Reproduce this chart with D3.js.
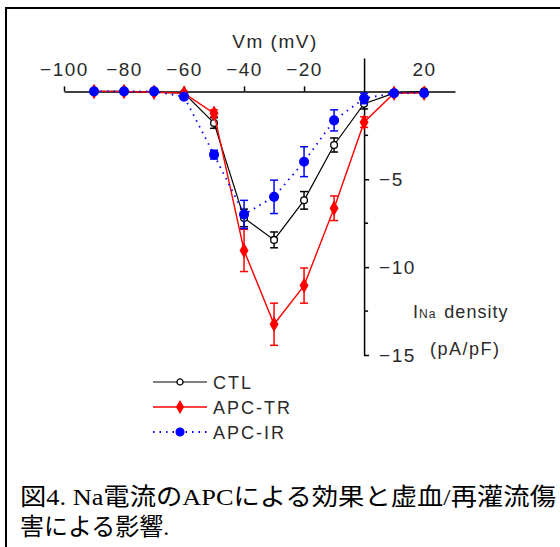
<!DOCTYPE html>
<html>
<head>
<meta charset="utf-8">
<script src="https://cdn.jsdelivr.net/npm/d3@7"></script>
<style>
  body { margin: 0; background: #fff; }
  svg { display: block; }
  .lbl { font-family: "Liberation Sans", Arial, sans-serif; fill: #2a2a2a; }
</style>
</head>
<body>
<div id="chart"></div>
<script>
// membrane potential steps (mV)
const voltages = [-90, -80, -70, -60, -50, -40, -30, -20, -10, 0, 10, 20];
// INa density (pA/pF), mean and SEM
const ctlMean = [0, 0, -0.05, -0.1, -1.8, -7.2, -8.45, -6.2, -3.05, -0.7, -0.1, 0];
const ctlErr  = [0, 0, 0, 0.1, 0.3, 0.5, 0.45, 0.5, 0.4, 0.3, 0.1, 0];
const trMean  = [0, 0, -0.05, -0.1, -1.25, -9.05, -13.25, -11.05, -6.65, -1.75, -0.1, -0.1];
const trErr   = [0, 0, 0, 0.1, 0.2, 1.2, 1.2, 1.0, 0.7, 0.3, 0.1, 0];
const irMean  = [0, 0, 0, -0.3, -3.6, -7.0, -6.0, -4.0, -1.65, -0.4, -0.1, -0.1];
const irErr   = [0, 0, 0, 0.15, 0.25, 0.8, 0.95, 0.85, 0.6, 0.3, 0.1, 0];
const xTicks = [-100, -80, -60, -40, -20, 20];
const yTicks = [-5, -10, -15];
const yMinor = [-2.5, -7.5, -12.5];

const W = 560, H = 547;
const svg = d3.select('#chart').append('svg').attr('width', W).attr('height', H);

// outer frame (cropped at right/bottom)
svg.append('rect').attr('x', 6).attr('y', 8).attr('width', 700).attr('height', 700)
  .attr('fill', 'none').attr('stroke', '#000').attr('stroke-width', 2);

const x = d3.scaleLinear().domain([-100, 30.3]).range([64, 455]);
const y = d3.scaleLinear().domain([1.9, -15]).range([58, 355]);

// x axis (ticks up, labels above)
const xAxis = svg.append('g').attr('transform', `translate(0,${y(0)})`)
  .call(d3.axisTop(x).tickValues(xTicks).tickSizeInner(5).tickSizeOuter(0).tickPadding(10));
xAxis.select('.domain').attr('stroke', '#000').attr('stroke-width', 1.5);
xAxis.selectAll('.tick line').attr('stroke', '#000').attr('stroke-width', 1.5);
xAxis.selectAll('.tick text').attr('class', 'lbl').attr('font-size', 19)
  .attr('letter-spacing', 1.5).attr('fill', '#2a2a2a');

// y axis at x=0
const yAxis = svg.append('g').attr('transform', `translate(${x(0)},0)`)
  .call(d3.axisRight(y).tickValues(yTicks).tickSizeInner(5).tickSizeOuter(0).tickPadding(10));
yAxis.select('.domain').attr('stroke', '#000').attr('stroke-width', 1.5);
yAxis.selectAll('.tick line').attr('stroke', '#000').attr('stroke-width', 1.5);
yAxis.selectAll('.tick text').attr('class', 'lbl').attr('font-size', 19)
  .attr('letter-spacing', 1.5).attr('fill', '#2a2a2a');
yAxis.selectAll('.minor').data(yMinor).enter().append('line')
  .attr('x1', 0).attr('x2', 4).attr('y1', d => y(d)).attr('y2', d => y(d))
  .attr('stroke', '#000').attr('stroke-width', 1.5);

// axis titles
svg.append('text').attr('class', 'lbl').attr('x', 275).attr('y', 48)
  .attr('text-anchor', 'middle').attr('font-size', 19).attr('letter-spacing', 1.5)
  .text('Vm (mV)');
const ina = svg.append('text').attr('class', 'lbl').attr('x', 413).attr('y', 318)
  .attr('font-size', 18).attr('letter-spacing', 1);
ina.append('tspan').text('I');
ina.append('tspan').attr('font-size', 12).text('Na');
ina.append('tspan').attr('dx', 8).text('density');
svg.append('text').attr('class', 'lbl').attr('x', 430).attr('y', 355)
  .attr('font-size', 18).attr('letter-spacing', 1.5).text('(pA/pF)');

const series = [
  { name: 'CTL', mean: ctlMean, err: ctlErr, color: '#000', dash: null, width: 1.2,
    symbol: d3.symbolCircle, size: 36, fill: '#fff' },
  { name: 'APC-TR', mean: trMean, err: trErr, color: '#ff0000', dash: null, width: 1.4,
    symbol: d3.symbolDiamond, size: 48, fill: '#ff0000' },
  { name: 'APC-IR', mean: irMean, err: irErr, color: '#0000ff', dash: '1.5,5', width: 1.8,
    symbol: d3.symbolCircle, size: 60, fill: '#0000ff' },
];

const line = d3.line().x(d => x(d[0])).y(d => y(d[1]));

series.forEach(s => {
  const pts = voltages.map((v, i) => [v, s.mean[i], s.err[i]]);
  const g = svg.append('g');
  g.append('path').datum(pts).attr('d', line).attr('fill', 'none')
    .attr('stroke', s.color).attr('stroke-width', s.width)
    .attr('stroke-dasharray', s.dash);
  // error bars
  const eb = g.selectAll('.eb').data(pts.filter(p => p[2] > 0.15)).enter().append('g')
    .attr('stroke', s.color).attr('stroke-width', 1.5);
  eb.append('line').attr('x1', d => x(d[0])).attr('x2', d => x(d[0]))
    .attr('y1', d => y(d[1] - d[2])).attr('y2', d => y(d[1] + d[2]));
  eb.append('line').attr('x1', d => x(d[0]) - 4).attr('x2', d => x(d[0]) + 4)
    .attr('y1', d => y(d[1] - d[2])).attr('y2', d => y(d[1] - d[2]));
  eb.append('line').attr('x1', d => x(d[0]) - 4).attr('x2', d => x(d[0]) + 4)
    .attr('y1', d => y(d[1] + d[2])).attr('y2', d => y(d[1] + d[2]));
  g.selectAll('.pt').data(pts).enter().append('path')
    .attr('transform', d => `translate(${x(d[0])},${y(d[1])})`)
    .attr('d', d3.symbol().type(s.symbol).size(s.size))
    .attr('fill', s.fill).attr('stroke', s.color).attr('stroke-width', 1.3);
});

// legend
const leg = svg.append('g');
series.forEach((s, i) => {
  const ly = 382 + i * 25;
  leg.append('line').attr('x1', 153).attr('x2', 207).attr('y1', ly).attr('y2', ly)
    .attr('stroke', s.color).attr('stroke-width', s.width).attr('stroke-dasharray', s.dash);
  leg.append('path').attr('transform', `translate(180,${ly})`)
    .attr('d', d3.symbol().type(s.symbol).size(s.size * 0.8))
    .attr('fill', s.fill).attr('stroke', s.color).attr('stroke-width', 1.3);
  leg.append('text').attr('class', 'lbl').attr('x', 213).attr('y', ly + 7)
    .attr('font-size', 18).attr('letter-spacing', 2)
    .attr('fill', i === 0 ? '#2a2a2a' : s.color).text(s.name);
});

// caption
const cap = svg.append('text').attr('x', 20)
  .attr('font-family', '"Liberation Serif", "Noto Sans CJK JP", serif')
  .attr('font-size', 24).attr('fill', '#000');
cap.append('tspan').attr('x', 20).attr('y', 505).attr('textLength', 536)
  .attr('lengthAdjust', 'spacingAndGlyphs').text('図4. Na電流のAPCによる効果と虚血/再灌流傷');
cap.append('tspan').attr('x', 20).attr('y', 535).text('害による影響.');
</script>
</body>
</html>
